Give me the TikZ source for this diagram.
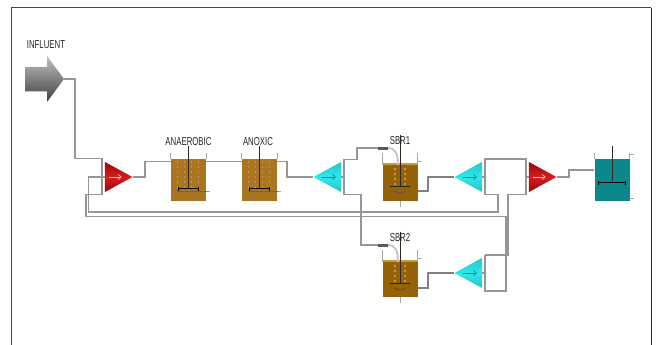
\documentclass[tikz,border=0pt]{standalone}
\usepackage{fontspec}
\setmainfont{Liberation Sans}
\usetikzlibrary{shapes.geometric,calc,arrows.meta}
\definecolor{pipe}{RGB}{150,150,150}
\definecolor{framec}{RGB}{70,70,70}
\definecolor{brownA}{RGB}{170,117,35}
\definecolor{brownB}{RGB}{150,98,8}
\definecolor{speck}{RGB}{198,150,75}
\definecolor{tealc}{RGB}{12,135,140}
\definecolor{redD}{RGB}{150,8,12}
\definecolor{redM}{RGB}{215,28,30}
\definecolor{cyanD}{RGB}{40,195,200}
\definecolor{cyanM}{RGB}{45,232,235}
\definecolor{ink}{RGB}{50,40,30}
\tikzset{
  x=1pt,y=-1pt,
  pipeline/.style={draw=pipe,line width=1.05pt,line join=miter},
  wall/.style={draw=gray!70,line width=.7pt},
  shaft/.style={draw=ink,line width=.9pt},
  paddle/.style={draw=black!85,line width=1.3pt},
  lbl/.style={font=\fontsize{11.5}{12}\selectfont,text=black!85,inner sep=0pt,xscale=.68},
  tankbox/.style={rectangle,draw=none,inner sep=0pt,minimum width=35pt,minimum height=42.5pt},
  tri/.style={isosceles triangle,isosceles triangle stretches,inner sep=0pt,minimum width=30pt,minimum height=27.5pt,anchor=apex,draw=none},
  redtri/.style={tri,top color=redD,bottom color=redD,middle color=redM,shape border rotate=0},
  cyantri/.style={tri,top color=cyanD,bottom color=cyanD,middle color=cyanM,shape border rotate=180},
  flowlight/.style={-{Straight Barb[length=3pt,width=5pt]},red!30,line width=.8pt},
  flowdark/.style={-{Straight Barb[length=3pt,width=5pt]},cyanD!70!black,line width=.7pt},
}
\newcommand{\stirrer}[5]{% node, paddle offset, paddle half width, shaft top, colour
  \draw[shaft] ($(#1.north)+(0,#4)$) -- ($(#1.north)+(0,#2)$);
  \draw[paddle,#5] ($(#1.north)+(-#3,#2)$) -- ($(#1.north)+(#3,#2)$);
  \draw[#5,line width=.6pt] ($(#1.north)+(-#3,#2-2)$) -- ($(#1.north)+(-#3,#2+2)$);
  \draw[#5,line width=.6pt] ($(#1.north)+(#3,#2-2)$) -- ($(#1.north)+(#3,#2+2)$);
}
\newcommand{\walls}[2]{% node, height above
  \draw[wall] (#1.north west) -- ++(0,-#2);
  \draw[wall] (#1.north east) -- ++(0,-#2);
}
\newcommand{\specks}[1]{%
  \foreach \dx in {7,14,21,28}
    \draw[speck,line width=1.2pt,dash pattern=on 2pt off 3pt] ($(#1.north west)+(\dx,2)$) -- ($(#1.north west)+(\dx,29)$);
}
\begin{document}
\begin{tikzpicture}
\useasboundingbox (0,0) rectangle (659,345);
\fill[white] (0,0) rectangle (659,345);
\draw[framec,line width=1pt] (11.5,345) -- (11.5,8) -- (651,8);
\draw[black!85,line width=1pt] (651,8) -- (651,345);

\coordinate (inftip) at (64,79);
\coordinate (nubA) at (378,148);
\coordinate (nubB) at (378,245);

% tanks
\node[tankbox,fill=brownA] (anaer) at (188.5,180) {};
\node[tankbox,fill=brownA] (anox) at (259.5,180) {};
\node[tankbox,fill=brownB,minimum height=36pt] (sbra) at (400,183) {};
\node[tankbox,fill=brownB,minimum height=35pt] (sbrb) at (400,279.5) {};
\node[tankbox,fill=tealc] (eff) at (612,180) {};

% triangles
\node[redtri] (mixa) at (133,177) {};
\node[cyantri] (spa) at (313,177) {};
\node[cyantri] (spb) at (454,177) {};
\node[cyantri] (spc) at (454,273) {};
\node[redtri] (mixb) at (557,177) {};

% connectors
\draw[pipeline] (inftip) -- (75,79) -- (75,158.5) -- (102,158.5) -- (102,194.5) -- (86,194.5) -- (86,216.5) -- (506,216.5) -- (506,291) -- (485,291) -- (485,255);
\draw[pipeline] (spc.lower side) -- (485,273);
\draw[pipeline] (485,255) -- (508,255) -- (508,194.5) -- (526,194.5) -- (526,159) -- (485,159) -- (485,194.5) -- (498,194.5) -- (498,212) -- (88.5,212) -- (88.5,177) -- (mixa.lower side);
\draw[pipeline] (spb.lower side) -- (485,177);
\draw[pipeline] (526,177) -- (mixb.lower side);
\draw[pipeline] (mixa.apex) -- (145,177) -- (145,161.5) -- (anaer.north west |- 0,161.5);
\draw[pipeline] (anaer.north east |- 0,161.5) -- (anox.north west |- 0,161.5);
\draw[pipeline] (anox.north east |- 0,161.5) -- (287,161.5) -- (287,177) -- (spa.apex);
\draw[pipeline] (spa.lower side) -- (344,177);
\draw[pipeline] (344,177) -- (344,159.5) -- (357,159.5) -- (357,148) -- (nubA);
\draw[pipeline] (344,177) -- (344,194.5) -- (361,194.5) -- (361,245) -- (nubB);
\draw[pipeline,black!50] (sbra.east |- 0,191) -- (428,191) -- (428,177) -- (spb.apex);
\draw[pipeline,black!50] (sbrb.east |- 0,288) -- (428,288) -- (428,273) -- (spc.apex);
\draw[pipeline] (mixb.apex) -- (569,177) -- (569,170) -- (eff.west |- 0,170);

% influent arrow
\shade[top color=gray!50,middle color=gray!80,bottom color=black!75]
  (25,67) -- (47,67) -- (47,56) -- (inftip) -- (47,102) -- (47,91.5) -- (25,91.5) -- cycle;

% tank details
\specks{anaer}\specks{anox}
\walls{anaer}{6}\walls{anox}{6}
\stirrer{anaer}{30}{10}{-13}{black}
\stirrer{anox}{30}{10}{-13}{black}
\draw[wall] (anaer.east |- 0,191) -- ++(4,0);
\draw[wall] (anox.east |- 0,191) -- ++(4,0);
\draw[black!60,line width=.6pt] ($(anaer.north)+(-12,33)$) -- ($(anaer.north)+(18,33)$);
\draw[black!60,line width=.6pt] ($(anox.north)+(-12,33)$) -- ($(anox.north)+(18,33)$);

\foreach \n/\nb in {sbra/nubA,sbrb/nubB}{
  \fill[speck] (\n.north west) rectangle ($(\n.north east)+(0,-1.5)$);
  \draw[wall] (\n.north west) -- ++(0,-12);
  \draw[wall] (\n.north east) -- ++(0,-12);
  \draw[wall] ($(\n.north east)+(0,-3)$) -- ++(3.5,0);
  \draw[wall] (\n.south) -- ++(0,6);
  \draw[gray!50,line width=1.6pt] ($(\nb)+(10,0)$) .. controls ($(\nb)+(17,0)$) and ($(\nb)+(20,5)$) .. ($(\nb)+(20,17)$);
  \draw[black!65,line width=3pt] (\nb) -- ($(\nb)+(10,0)$);
  \draw[speck,line width=1.2pt,dash pattern=on 2pt off 3pt] ($(\n.north)+(-5,3)$) -- ($(\n.north)+(-5,20)$);
  \draw[speck,line width=1.2pt,dash pattern=on 2pt off 3pt] ($(\n.north)+(5,3)$) -- ($(\n.north)+(5,20)$);
  \draw[shaft] ($(\n.north)+(0,-30)$) -- ($(\n.north)+(0,22)$);
  \draw[paddle] ($(\n.north)+(-10,22)$) -- ($(\n.north)+(10,22)$);
  \draw[black!70,line width=.6pt] ($(\n.north)+(-6,26)$) .. controls ($(\n.north)+(-3,29)$) and ($(\n.north)+(3,29)$) .. ($(\n.north)+(6,26)$);
}
\stirrer{eff}{24}{13.5}{-13}{black}
\walls{eff}{6}
\draw[wall] (eff.north east) ++(0,-4) -- ++(4,0);
\draw[wall] (eff.south east) ++(0,-3) -- ++(4,0);

% flow arrows inside triangles
\draw[flowlight] (mixa.lower side) ++(4,0) -- ++(13,0);
\draw[flowlight] (mixb.lower side) ++(4,0) -- ++(13,0);
\draw[flowdark] (spa.apex) ++(9,0) -- ++(14,0);
\draw[flowdark] (spb.apex) ++(9,0) -- ++(14,0);
\draw[flowdark] (spc.apex) ++(9,0) -- ++(14,0);

% labels
\node[lbl] (tinf) at (46,45) {INFLUENT};
\node[lbl] (tana) at (188.5,141.5) {ANAEROBIC};
\node[lbl] (tano) at (258,141.5) {ANOXIC};
\node[lbl] (tsa) at (400,141) {SBR1};
\node[lbl] (tsb) at (400,238) {SBR2};
\end{tikzpicture}
\end{document}
